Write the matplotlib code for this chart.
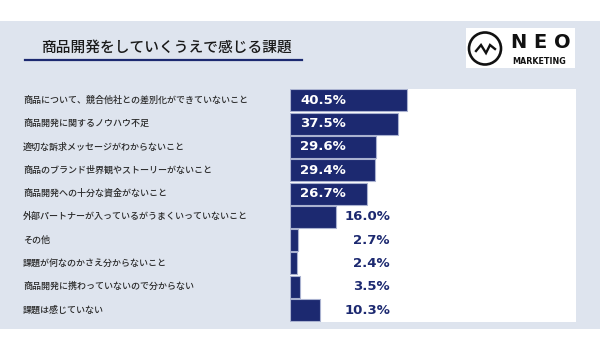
import matplotlib.pyplot as plt
from matplotlib.patches import Circle
from matplotlib.transforms import blended_transform_factory

plt.rcParams['font.family'] = ['Noto Sans CJK JP', 'DejaVu Sans']

categories = [
    '商品について、競合他社との差別化ができていないこと',
    '商品開発に関するノウハウ不足',
    '適切な訴求メッセージがわからないこと',
    '商品のブランド世界観やストーリーがないこと',
    '商品開発への十分な資金がないこと',
    '外部パートナーが入っているがうまくいっていないこと',
    'その他',
    '課題が何なのかさえ分からないこと',
    '商品開発に携わっていないので分からない',
    '課題は感じていない',
]
values = [40.5, 37.5, 29.6, 29.4, 26.7, 16.0, 2.7, 2.4, 3.5, 10.3]
title = '商品開発をしていくうえで感じる課題'

navy = '#1c2970'
panel = '#dee4ee'
W, H = 600, 350

fig = plt.figure(figsize=(6, 3.5), dpi=100)
fig.patch.set_facecolor('white')

# light panel behind everything
fig.add_artist(plt.Rectangle((0, 21 / H), 1, 1 - 21 / H - 21 / H, transform=fig.transFigure,
                             facecolor=panel, edgecolor='none', zorder=0))

# title + underline
fig.text(41 / W, 1 - 48 / H, title, fontsize=10.6, fontweight='medium', color='#1a1a1a',
         va='center', ha='left')
fig.add_artist(plt.Line2D([25 / W, 302 / W], [1 - 59.5 / H] * 2, transform=fig.transFigure,
                          color=navy, lw=1.6))

# logo box (axes in pixel units)
lax = fig.add_axes([466 / W, 1 - 68 / H, 109 / W, 40 / H])
lax.set_xlim(466, 575)
lax.set_ylim(68, 28)
lax.set_facecolor('white')
lax.set_xticks([])
lax.set_yticks([])
for s in lax.spines.values():
    s.set_visible(False)
lax.add_patch(Circle((485, 48.5), 16, fill=False, lw=1.9, color='#111111'))
lax.plot([476, 481, 486, 490, 495], [51, 45, 53, 45, 49], color='#111111', lw=1.7,
         solid_joinstyle='miter')
lax.text(511, 42.5, 'N E O', fontsize=14, fontweight='bold', color='#111111',
         va='center', ha='left', family='DejaVu Sans')
lax.text(512.5, 61.5, 'MARKETING', fontsize=5.8, fontweight='bold', color='#111111',
         va='center', ha='left', family='DejaVu Sans')

# bar chart
ax = fig.add_axes([290 / W, 1 - 321.7 / H, 286 / W, 233 / H])
ax.set_facecolor('white')
y = list(range(len(values)))
ax.barh(y, values, height=0.94, color=navy, edgecolor='#aab2d0', linewidth=0.8)
ax.set_xlim(0, 99)
ax.set_ylim(len(values) - 0.5, -0.5)
ax.set_xticks([])
ax.set_yticks([])
for s in ax.spines.values():
    s.set_visible(False)

# big values sit inside the bar, small ones in a right-aligned column
for i, v in enumerate(values):
    txt = f'{v:.1f}%'
    if v >= 20:
        ax.text(3.5, i, txt, color='white', fontsize=9.5, va='center', ha='left',
                family='DejaVu Sans', fontweight='bold')
    else:
        ax.text(34.6, i, txt, color=navy, fontsize=9.5, va='center', ha='right',
                family='DejaVu Sans', fontweight='bold')

tr = blended_transform_factory(fig.transFigure, ax.transData)
for i, c in enumerate(categories):
    ax.text(23 / W, i, c, transform=tr, fontsize=6.5, fontweight='medium', color='#2a2a2a',
            va='center', ha='left', clip_on=False)

fig.savefig('out.png', dpi=100)
